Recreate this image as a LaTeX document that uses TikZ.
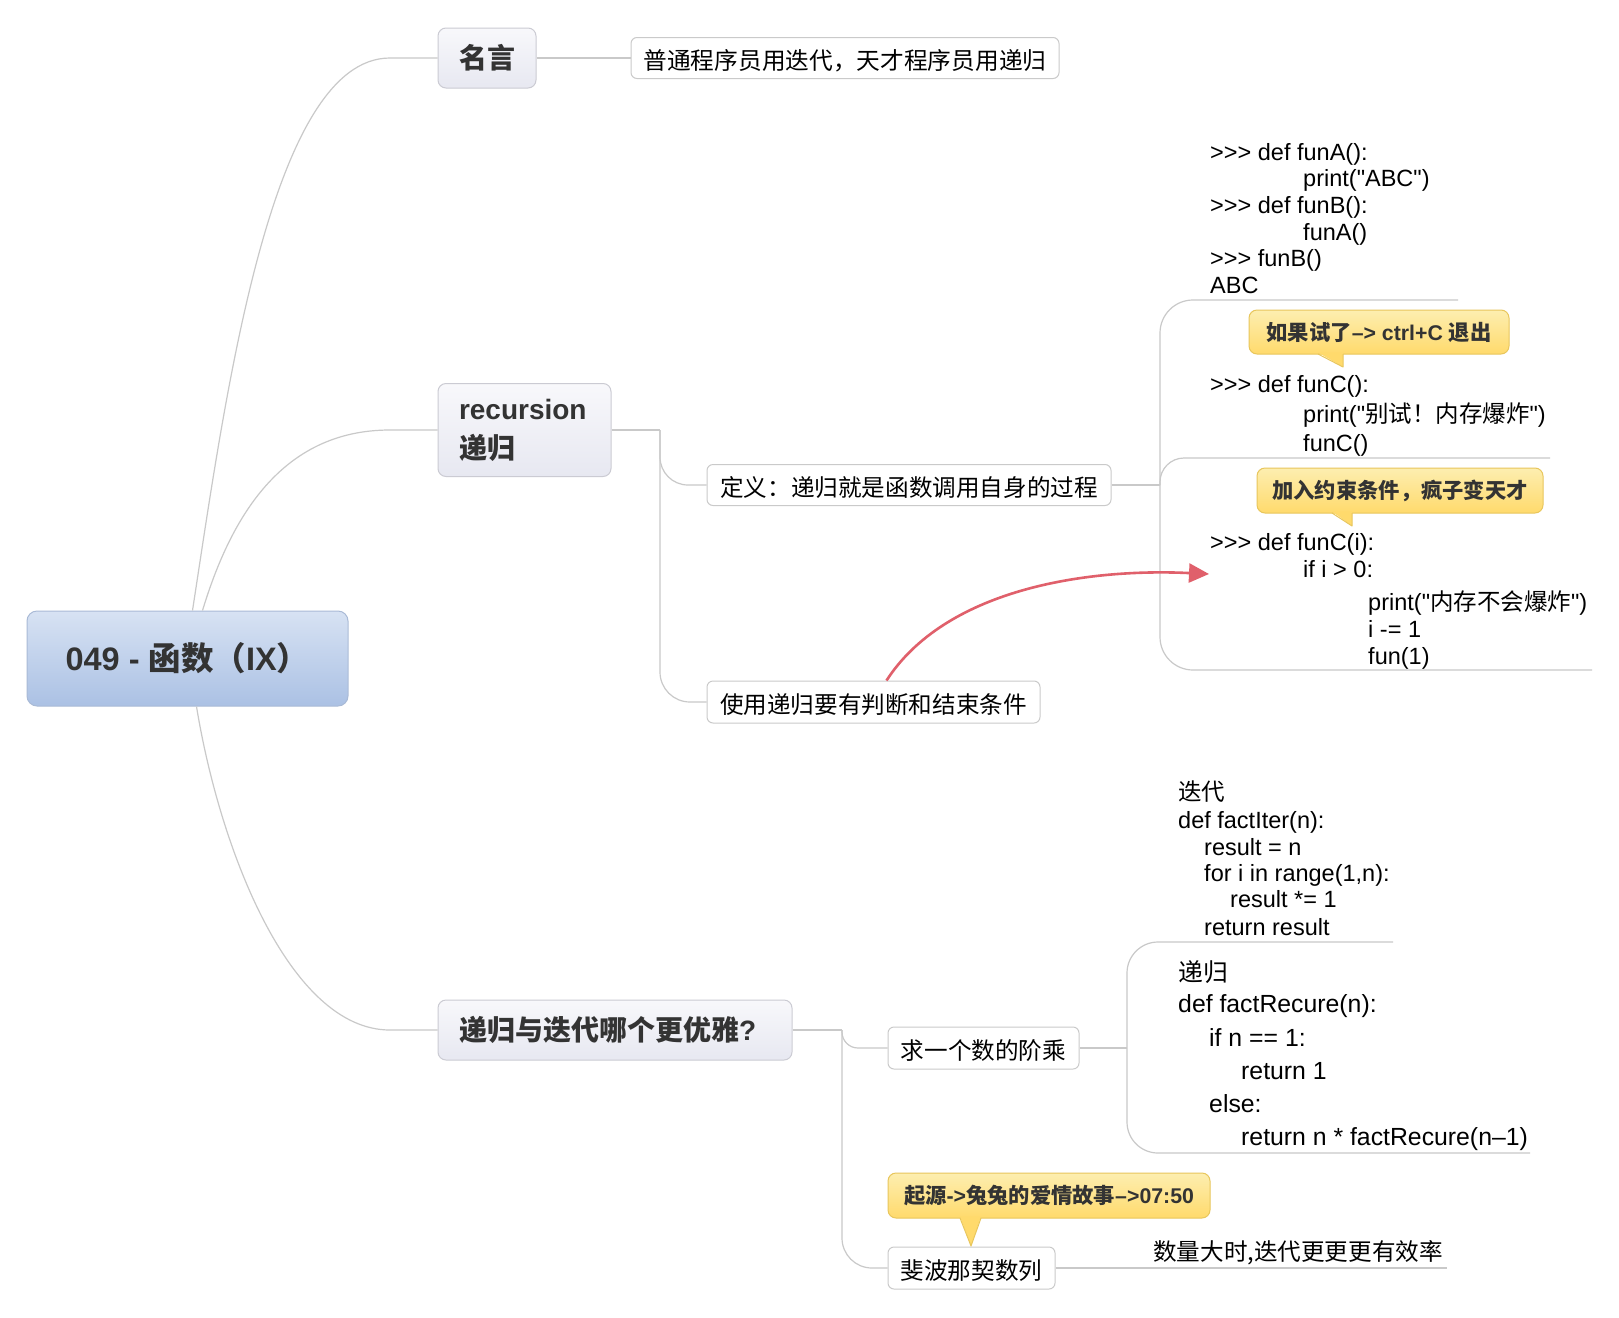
\documentclass[tikz,border=0pt]{standalone}
\usepackage{fontspec}
\setmainfont{Liberation Sans}[Ligatures=TeXOff]
\newfontfamily\cjk{Noto Sans CJK SC}
\newcommand\zh[1]{{\cjk #1}}
\newcommand\lat[1]{{\rmfamily #1}}
\usetikzlibrary{arrows.meta}
\definecolor{conncol}{HTML}{C9C9C9}
\definecolor{boxborder}{HTML}{CACACA}
\definecolor{topicborder}{HTML}{CBCBD3}
\definecolor{topictop}{HTML}{F8F8FB}
\definecolor{topicbot}{HTML}{E7E8F1}
\definecolor{roottop}{HTML}{D7E2F3}
\definecolor{rootbot}{HTML}{ABC1E4}
\definecolor{rootborder}{HTML}{A9BAD6}
\definecolor{calltop}{HTML}{FDEEB0}
\definecolor{callbot}{HTML}{FFDA6C}
\definecolor{callborder}{HTML}{E8C65C}
\definecolor{titletext}{HTML}{333333}
\definecolor{redc}{HTML}{E0606B}
\tikzset{
  conn/.style={draw=conncol, line width=1.2pt},
  rootbox/.style={draw=rootborder, line width=1pt, rounded corners=10pt, top color=roottop, bottom color=rootbot, inner sep=0pt, text=titletext, font=\cjk\bfseries\fontsize{32.5}{38}\selectfont},
  topic/.style={draw=topicborder, line width=1pt, rounded corners=8pt, top color=topictop, bottom color=topicbot, inner sep=0pt, text=titletext, font=\bfseries\fontsize{28}{39}\selectfont},
  plainbox/.style={draw=boxborder, line width=1pt, rounded corners=6pt, fill=white, inner sep=0pt, text=black, text height=22pt, text depth=0pt, font=\cjk\fontsize{23.6}{27}\selectfont},
  callout/.style={draw=callborder, line width=1pt, rounded corners=8pt, top color=calltop, bottom color=callbot, inner sep=0pt, text=titletext, font=\cjk\bfseries\fontsize{21.3}{24}\selectfont},
  tailline/.style={draw=callborder, line width=1pt, line join=round},
  code/.style={anchor=base west, inner sep=0pt, text=black, font=\fontsize{23.5}{27}\selectfont},
  codeb/.style={code, font=\fontsize{24.8}{30}\selectfont},
  redarrow/.style={draw=redc, line width=2.6pt, -{Triangle[length=20pt,width=19pt]}}
}
\begin{document}
\begin{tikzpicture}[x=1pt,y=-1pt]
\fill[white] (0,0) rectangle (1619,1317);
\useasboundingbox (0,0) rectangle (1619,1317);

% main nodes
\node[rootbox, minimum width=321pt, minimum height=95pt] (root) at (187.5,658.5) {\lat{049 - }函数（\lat{IX}）};
\node[topic, minimum width=98pt, minimum height=60pt] (ming) at (487,58) {\zh{名言}};
\node[plainbox, minimum width=428pt, minimum height=41pt, font=\cjk\fontsize{23.7}{27}\selectfont] (quote) at (845,58) {普通程序员用迭代，天才程序员用递归};
\node[topic, minimum height=93pt, text width=131pt, align=left, inner xsep=21pt] (rec) at (524.5,430) {recursion\\\zh{递归}};
\node[plainbox, minimum width=404pt, minimum height=41pt, font=\cjk\fontsize{23.6}{27}\selectfont] (def) at (909,485) {定义：递归就是函数调用自身的过程};
\node[plainbox, minimum width=333pt, minimum height=42pt] (use) at (873.5,702) {使用递归要有判断和结束条件};
\node[topic, minimum height=60pt, text width=312pt, align=left, inner xsep=21pt] (dd) at (615,1030) {\zh{递归与迭代哪个更优雅}?};
\node[plainbox, minimum width=191pt, minimum height=42pt] (qiu) at (983.5,1048) {求一个数的阶乘};
\node[plainbox, minimum width=167pt, minimum height=42pt] (fei) at (971.5,1268) {斐波那契数列};

% code block 1
\node[code] (a1) at (1210,160.5) {>>> def funA():};
\node[code] (a2) at (1303,186.5) {print("ABC")};
\node[code] (a3) at (1210,213.5) {>>> def funB():};
\node[code] (a4) at (1303,240.5) {funA()};
\node[code] (a5) at (1210,266.5) {>>> funB()};
\node[code] (a6) at (1210,293.5) {ABC};
% code block 2
\node[code] (b1) at (1210,392.5) {>>> def funC():};
\node[code] (b2) at (1303,422.5) {print("\zh{别试！内存爆炸}")};
\node[code] (b3) at (1303,451.5) {funC()};
% code block 3
\node[code] (e1) at (1210,550.5) {>>> def funC(i):};
\node[code] (e2) at (1303,577) {if i > 0:};
\node[code] (e3) at (1368,610) {print("\zh{内存不会爆炸}")};
\node[code] (e4) at (1368,637.5) {i -= 1};
\node[code] (e5) at (1368,664) {fun(1)};
% iteration block
\node[code] (f1) at (1178,800.5) {\zh{迭代}};
\node[code] (f2) at (1178,828.5) {def factIter(n):};
\node[code] (f3) at (1204,855.5) {result = n};
\node[code] (f4) at (1204,881.5) {for i in range(1,n):};
\node[code] (f5) at (1230,907.5) {result *= 1};
\node[code] (f6) at (1204,935.5) {return result};
% recursion block
\node[codeb] (g1) at (1178,981.5) {\zh{递归}};
\node[codeb] (g2) at (1178,1012.5) {def factRecure(n):};
\node[codeb] (g3) at (1209,1046.5) {if n == 1:};
\node[codeb] (g4) at (1241,1079.5) {return 1};
\node[codeb] (g5) at (1209,1112.5) {else:};
\node[codeb] (g6) at (1241,1145.5) {return n * factRecure(n–1)};
% fibonacci note
\node[code, font=\cjk\fontsize{23.6}{27}\selectfont] (h1) at (1153,1260.5) {数量大时,迭代更更更有效率};

% callouts
\node[callout, minimum width=260pt, minimum height=44pt] (c1) at (1379,332) {如果试了\lat{–> ctrl+C }退出};
\node[callout, minimum width=286pt, minimum height=45pt] (c2) at (1400,490.5) {加入约束条件，疯子变天才};
\node[callout, minimum width=322pt, minimum height=45pt] (c3) at (1049,1195.5) {起源\lat{->}兔兔的爱情故事\lat{–>07:50}};
\fill[callbot] (1318,352.5) -- (1343,367) -- (1343,352.5) -- cycle;
\draw[tailline] (1318,354) -- (1343,367) -- (1343,354);
\fill[callbot] (1332,511.5) -- (1352,526) -- (1352,511.5) -- cycle;
\draw[tailline] (1332,513) -- (1352,526) -- (1352,513);
\fill[callbot] (960,1216.5) -- (971,1246) -- (981,1216.5) -- cycle;
\draw[tailline] (960,1218) -- (971,1246) -- (981,1218);

% junctions and free ends
\coordinate (jrec) at (660,430);
\coordinate (jdef) at (1160,485);
\coordinate (u1) at (1458,300);
\coordinate (u2) at (1550,458);
\coordinate (u3) at (1592,670);
\coordinate (jdd) at (842,1030);
\coordinate (jqiu) at (1127,1048);
\coordinate (u4) at (1393,942);
\coordinate (u5) at (1530,1153);
\coordinate (u6) at (1447,1268);
\coordinate (rtip) at (1209,574);

% connectors
\draw[conn] ([xshift=166pt]root.north west) .. controls (225,400) and (270,58) .. (390,58) -- (ming.west);
\draw[conn] ([xshift=176pt]root.north west) .. controls (230,520) and (280,430) .. (390,430) -- (rec.west);
\draw[conn] ([xshift=170pt]root.south west) .. controls (220,850) and (290,1030) .. (390,1030) -- (dd.west);
\draw[conn] (ming.east) -- (quote.west);
\draw[conn] (rec.east) -- (jrec);
\draw[conn, rounded corners=28pt] (jrec) |- (def.west);
\draw[conn, rounded corners=30pt] (jrec) |- (use.west);
\draw[conn] (def.east) -- (jdef);
\draw[conn, rounded corners=33pt] (jdef) |- (u1);
\draw[conn, rounded corners=24pt] (jdef) |- (u2);
\draw[conn, rounded corners=33pt] (jdef) |- (u3);
\draw[conn] (dd.east) -- (jdd);
\draw[conn, rounded corners=16pt] (jdd) |- (qiu.west);
\draw[conn, rounded corners=30pt] (jdd) |- (fei.west);
\draw[conn] (qiu.east) -- (jqiu);
\draw[conn, rounded corners=31pt] (jqiu) |- (u4);
\draw[conn, rounded corners=31pt] (jqiu) |- (u5);
\draw[conn] (fei.east) -- (u6);

% red arrow
\draw[redarrow] ([xshift=180pt]use.north west) .. controls (945,590) and (1084,568) .. (rtip);
\end{tikzpicture}
\end{document}
